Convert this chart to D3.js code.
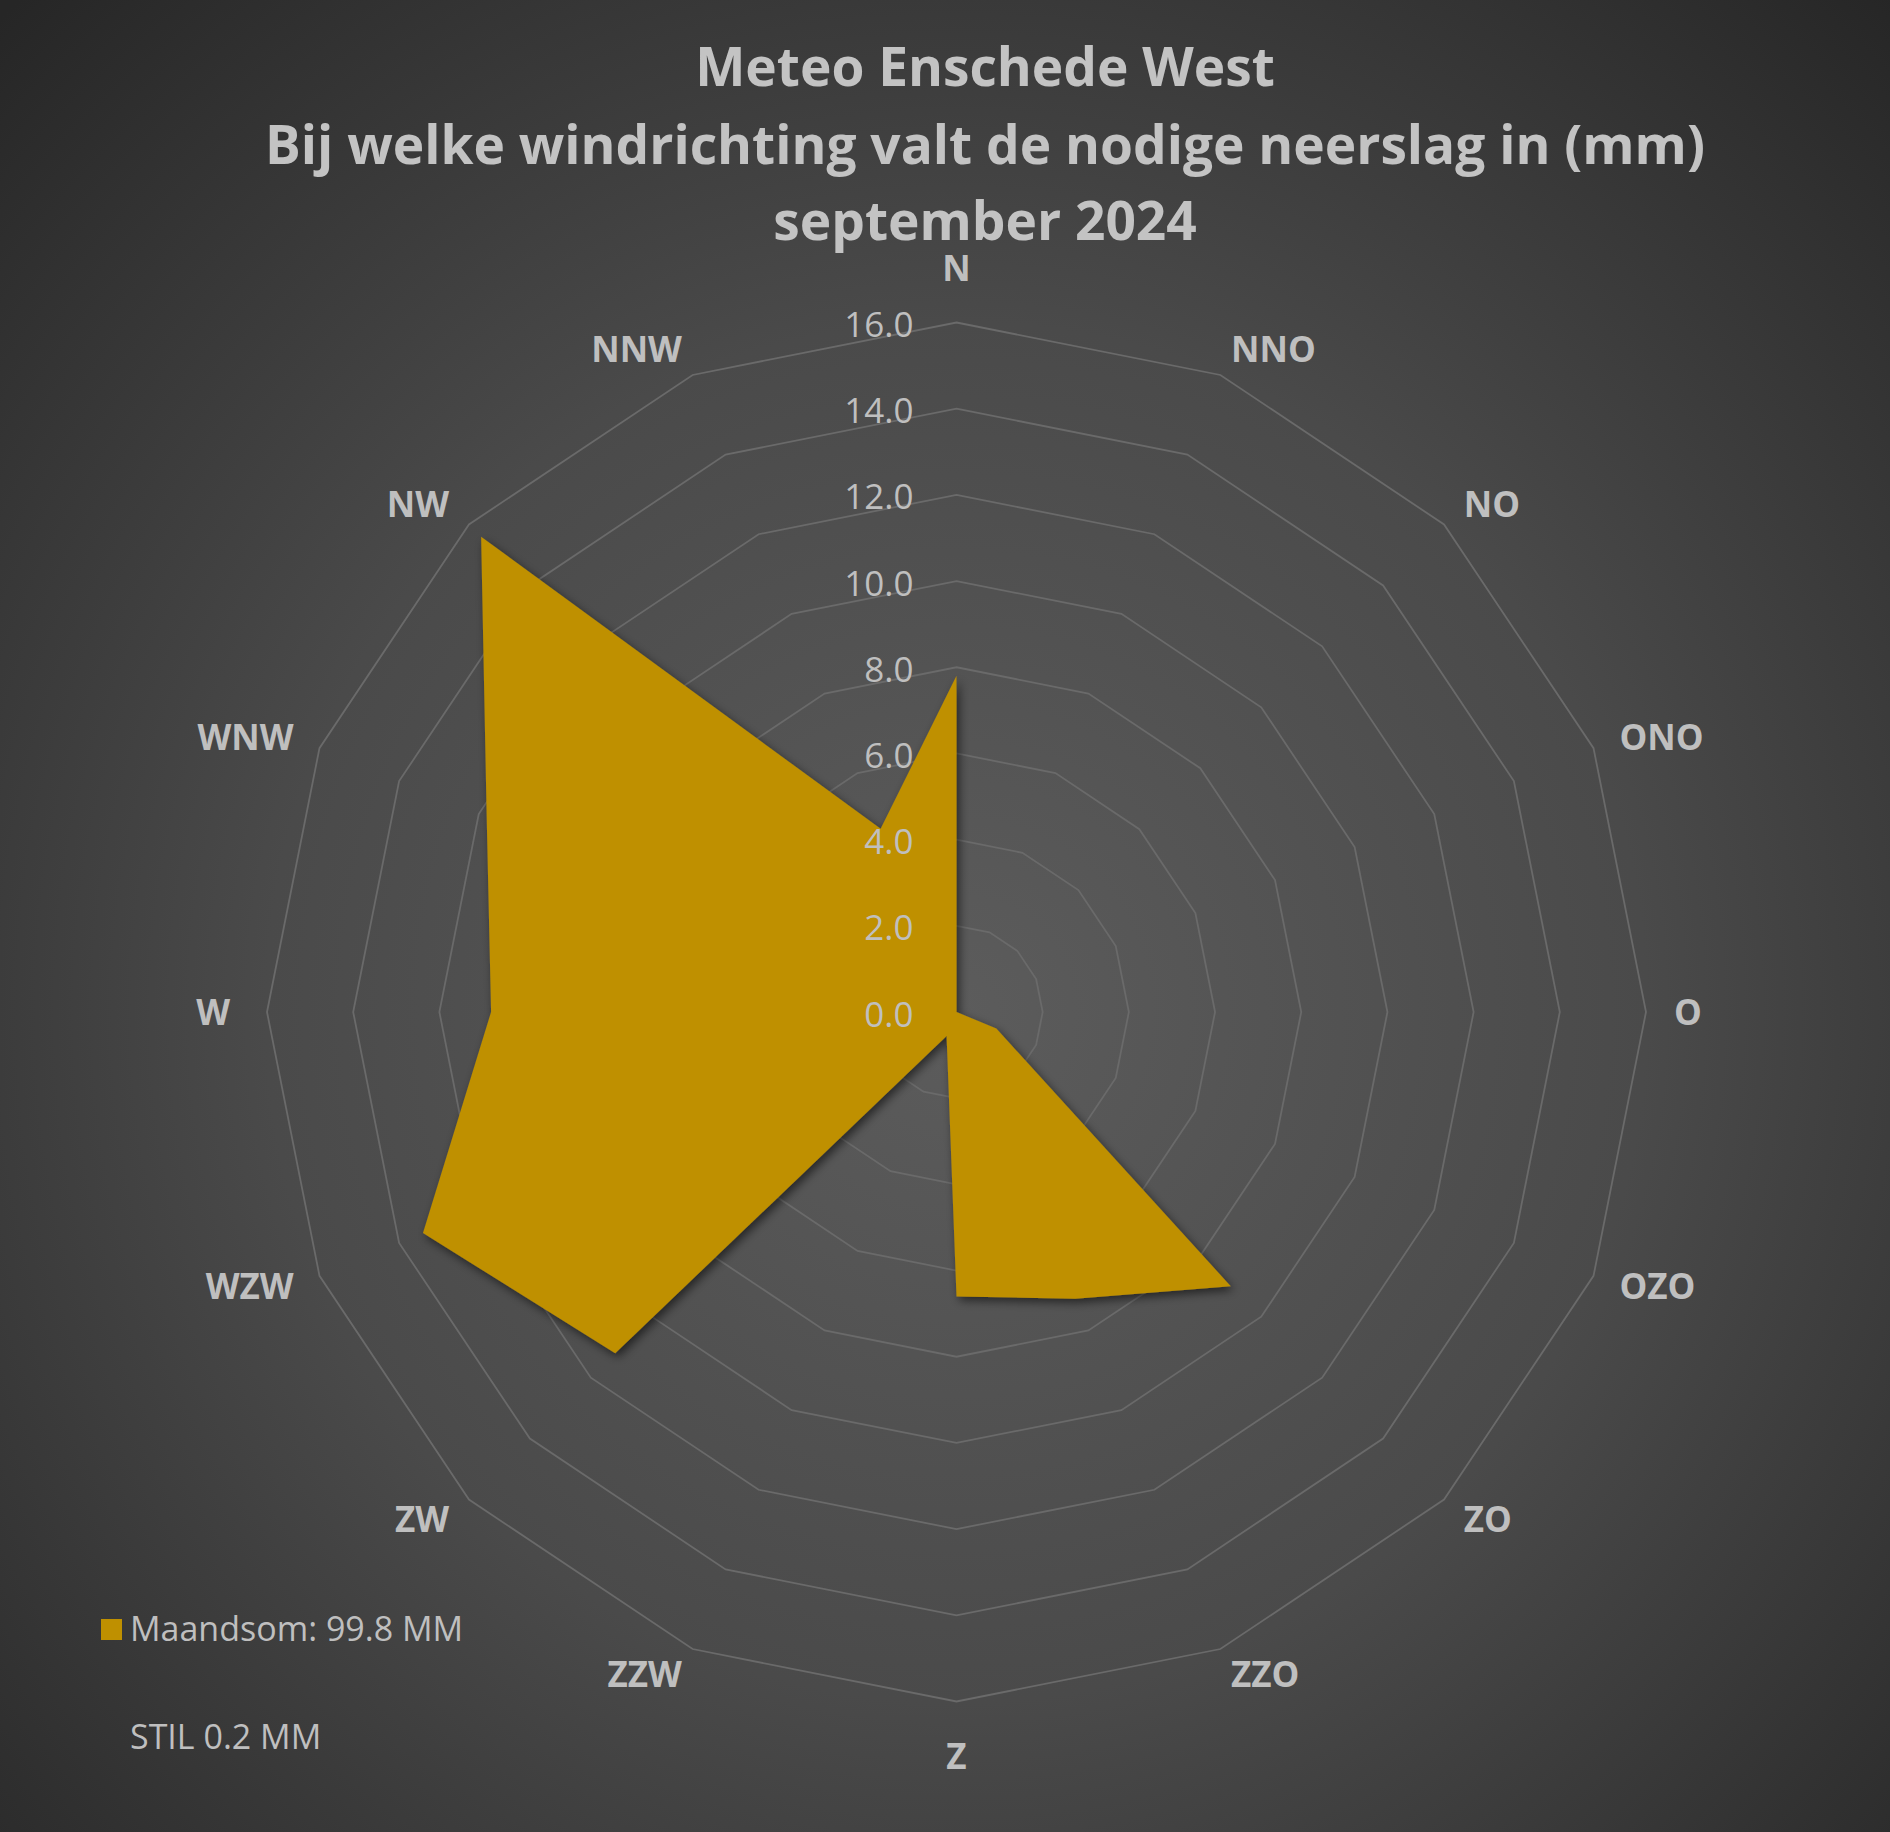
<!DOCTYPE html>
<html>
<head>
<meta charset="utf-8">
<script src="https://cdn.jsdelivr.net/npm/d3@7"></script>
<style>
  html, body { margin: 0; padding: 0; background: #2b2b2b; }
  svg { display: block; }
</style>
</head>
<body>
<script>
// ---- data ----
const titleLines = [
  "Meteo Enschede West",
  "Bij welke windrichting valt de nodige neerslag in (mm)",
  "september 2024"
];
const directions = ["N","NNO","NO","ONO","O","OZO","ZO","ZZO","Z","ZZW","ZW","WZW","W","WNW","NW","NNW"];
const rainfall   = [7.8, 0, 0, 0, 0, 1.0, 9.0, 7.2, 6.6, 0.6, 11.2, 13.4, 10.8, 11.8, 15.6, 4.6];
const radialTicks = [0, 2, 4, 6, 8, 10, 12, 14, 16];
const legendLabel = "Maandsom: 99.8 MM";
const noteLabel = "STIL 0.2 MM";

// ---- layout ----
const W = 1890, H = 1832;
const cx = 956.5, cy = 1012, R = 689.5;
const FONT = "'Open Sans', 'Noto Sans', sans-serif";
const TEXT = "#bfbfbf";
const FILL = "#BF9000";

const svg = d3.select("body").append("svg")
  .attr("width", W).attr("height", H)
  .attr("viewBox", `0 0 ${W} ${H}`);

const defs = svg.append("defs");
const bg = defs.append("radialGradient").attr("id", "bg")
  .attr("gradientUnits", "userSpaceOnUse")
  .attr("cx", cx).attr("cy", cy).attr("r", 1380);
bg.append("stop").attr("offset", "0").attr("stop-color", "#5c5c5c");
bg.append("stop").attr("offset", "0.5").attr("stop-color", "#4a4a4a");
bg.append("stop").attr("offset", "1").attr("stop-color", "#262626");

const sh = defs.append("filter").attr("id", "shadow")
  .attr("x", "-10%").attr("y", "-10%").attr("width", "130%").attr("height", "130%");
sh.append("feDropShadow").attr("dx", 3).attr("dy", 4).attr("stdDeviation", 5)
  .attr("flood-color", "#000").attr("flood-opacity", 0.55);

svg.append("rect").attr("width", W).attr("height", H).attr("fill", "url(#bg)");

// ---- scales ----
const rScale = d3.scaleLinear().domain([0, 16]).range([0, R]);
const angle = d3.scaleLinear().domain([0, directions.length]).range([0, 2 * Math.PI]);

const plot = svg.append("g").attr("transform", `translate(${cx},${cy})`);

// grid rings
const ringLine = d3.lineRadial().curve(d3.curveLinearClosed);
plot.append("g").selectAll("path")
  .data(radialTicks.filter(t => t > 0))
  .join("path")
  .attr("d", t => ringLine(directions.map((d, i) => [angle(i), rScale(t)])))
  .attr("fill", "none")
  .attr("stroke", "#6a6a6a")
  .attr("stroke-width", 1.8);

// data polygon
const areaLine = d3.lineRadial()
  .angle((d, i) => angle(i))
  .radius(d => rScale(d))
  .curve(d3.curveLinearClosed);
plot.append("path")
  .datum(rainfall)
  .attr("d", areaLine)
  .attr("fill", FILL)
  .attr("filter", "url(#shadow)");

// radial tick labels
plot.append("g").selectAll("text")
  .data(radialTicks)
  .join("text")
  .attr("x", -43)
  .attr("y", t => -rScale(t) + 14.5)
  .attr("text-anchor", "end")
  .attr("font-family", FONT)
  .attr("font-size", 35)
  .attr("fill", TEXT)
  .text(t => d3.format(".1f")(t));

// category labels
const capH = 25;
const catG = plot.append("g");
directions.forEach((name, i) => {
  const a = angle(i);
  const s = Math.sin(a), c = Math.cos(a);
  const vertical = Math.abs(s) < 0.01;
  const horizontal = Math.abs(c) < 0.01;
  const g = vertical ? 42 : (horizontal && s < 0 ? 37 : 28);
  const t = catG.append("text")
    .attr("text-anchor", "middle")
    .attr("font-family", FONT)
    .attr("font-weight", "bold")
    .attr("font-size", 35)
    .attr("fill", TEXT)
    .text(name);
  const w = t.node().getComputedTextLength();
  const vx = R * s, vy = -R * c;
  const sx = vertical ? 0 : Math.sign(s);
  const sy = vertical ? -Math.sign(c) : 0;
  const bx = vx + g * s + sx * w / 2;
  const by = vy - g * c + sy * capH / 2;
  t.attr("x", bx).attr("y", by + capH / 2);
});

// title
const titleG = svg.append("g");
const titleTexts = titleG.selectAll("text")
  .data(titleLines)
  .join("text")
  .attr("x", 985)
  .attr("y", (d, i) => [86, 164, 240][i])
  .attr("text-anchor", "middle")
  .attr("font-family", FONT)
  .attr("font-weight", "bold")
  .attr("font-size", 54)
  .attr("fill", "#c3c3c3")
  .text(d => d);
const w2 = titleTexts.nodes()[1].getComputedTextLength();
const fs = 54 * 1440 / w2;
titleTexts.attr("font-size", fs);

// legend
svg.append("rect").attr("x", 101).attr("y", 1619).attr("width", 21).attr("height", 21).attr("fill", FILL);
svg.append("text").attr("x", 130).attr("y", 1641)
  .attr("font-family", FONT).attr("font-size", 34).attr("fill", TEXT)
  .text(legendLabel);
svg.append("text").attr("x", 130).attr("y", 1749)
  .attr("font-family", FONT).attr("font-size", 34).attr("fill", TEXT)
  .text(noteLabel);
</script>
</body>
</html>
